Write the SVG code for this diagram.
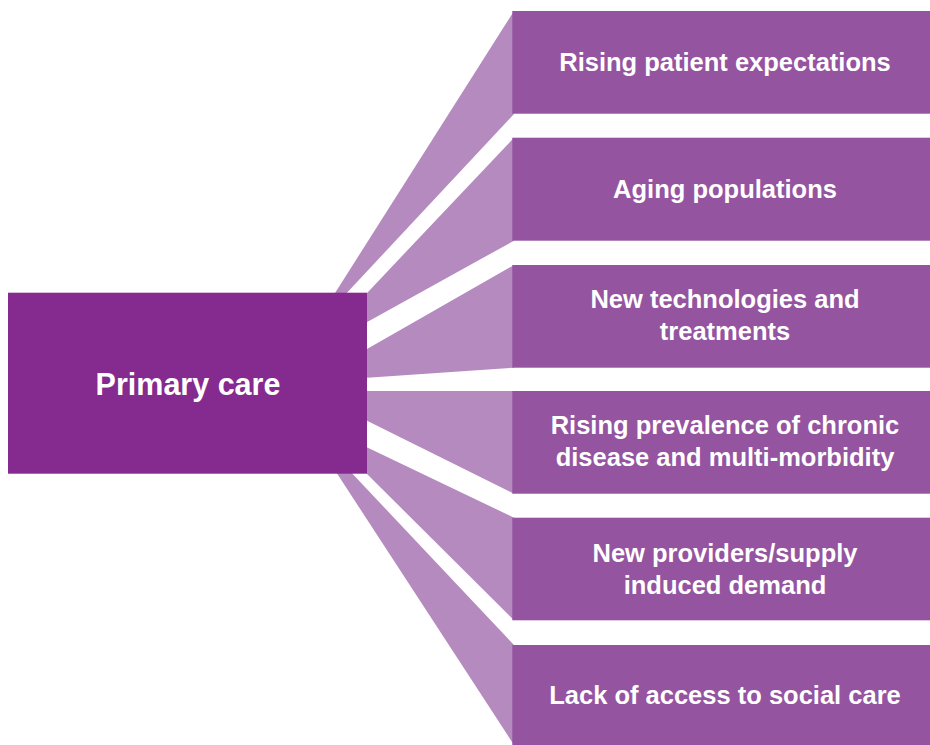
<svg xmlns="http://www.w3.org/2000/svg" width="930" height="745" viewBox="0 0 930 745">
  <style>
    .fan { fill: #b58abf; }
    .factor rect { fill: #9454a0; }
    .hub rect { fill: #852a8e; }
    text { font-family: "Liberation Sans", Arial, sans-serif; font-weight: bold; fill: #ffffff; text-anchor: middle; }
    .factor text { font-size: 25.5px; }
    .hub text { font-size: 30.5px; }
  </style>
  <rect x="0" y="0" width="930" height="745" fill="#ffffff"/>

  <!-- fan-shaped links from the hub to each factor -->
  <g id="connectors">
    <polygon class="fan" points="514,11 514,114 340.2,300 330.6,300"/>
    <polygon class="fan" points="514,137.7 514,240.7 360,325.9 360,300.4"/>
    <polygon class="fan" points="514,265 514,367.7 360,378.2 360,353"/>
    <polygon class="fan" points="514,391 514,493.7 360,417.2 360,391"/>
    <polygon class="fan" points="514,517.7 514,620.3 360,467 360,443.9"/>
    <polygon class="fan" points="514,645 514,745 332.8,467 346.1,467"/>
  </g>

  <g id="primary-care" class="hub">
    <rect x="8" y="292.7" width="359" height="181"/>
    <text x="188" y="395">Primary care</text>
  </g>

  <g id="patient-expectations" class="factor">
    <rect x="512.3" y="11" width="417.7" height="102.7"/>
    <text x="725" y="71">Rising patient expectations</text>
  </g>

  <g id="aging-populations" class="factor">
    <rect x="512.3" y="137.7" width="417.7" height="103"/>
    <text x="725" y="198">Aging populations</text>
  </g>

  <g id="new-technologies" class="factor">
    <rect x="512.3" y="265" width="417.7" height="102.7"/>
    <text x="725" y="307.5">New technologies and</text>
    <text x="725" y="339.5">treatments</text>
  </g>

  <g id="chronic-disease" class="factor">
    <rect x="512.3" y="391" width="417.7" height="102.7"/>
    <text x="725" y="434">Rising prevalence of chronic</text>
    <text x="725" y="466">disease and multi-morbidity</text>
  </g>

  <g id="new-providers" class="factor">
    <rect x="512.3" y="517.7" width="417.7" height="102.6"/>
    <text x="725" y="561.5">New providers/supply</text>
    <text x="725" y="593.5">induced demand</text>
  </g>

  <g id="social-care-access" class="factor">
    <rect x="512.3" y="645" width="417.7" height="100"/>
    <text x="725" y="703.5">Lack of access to social care</text>
  </g>
</svg>
